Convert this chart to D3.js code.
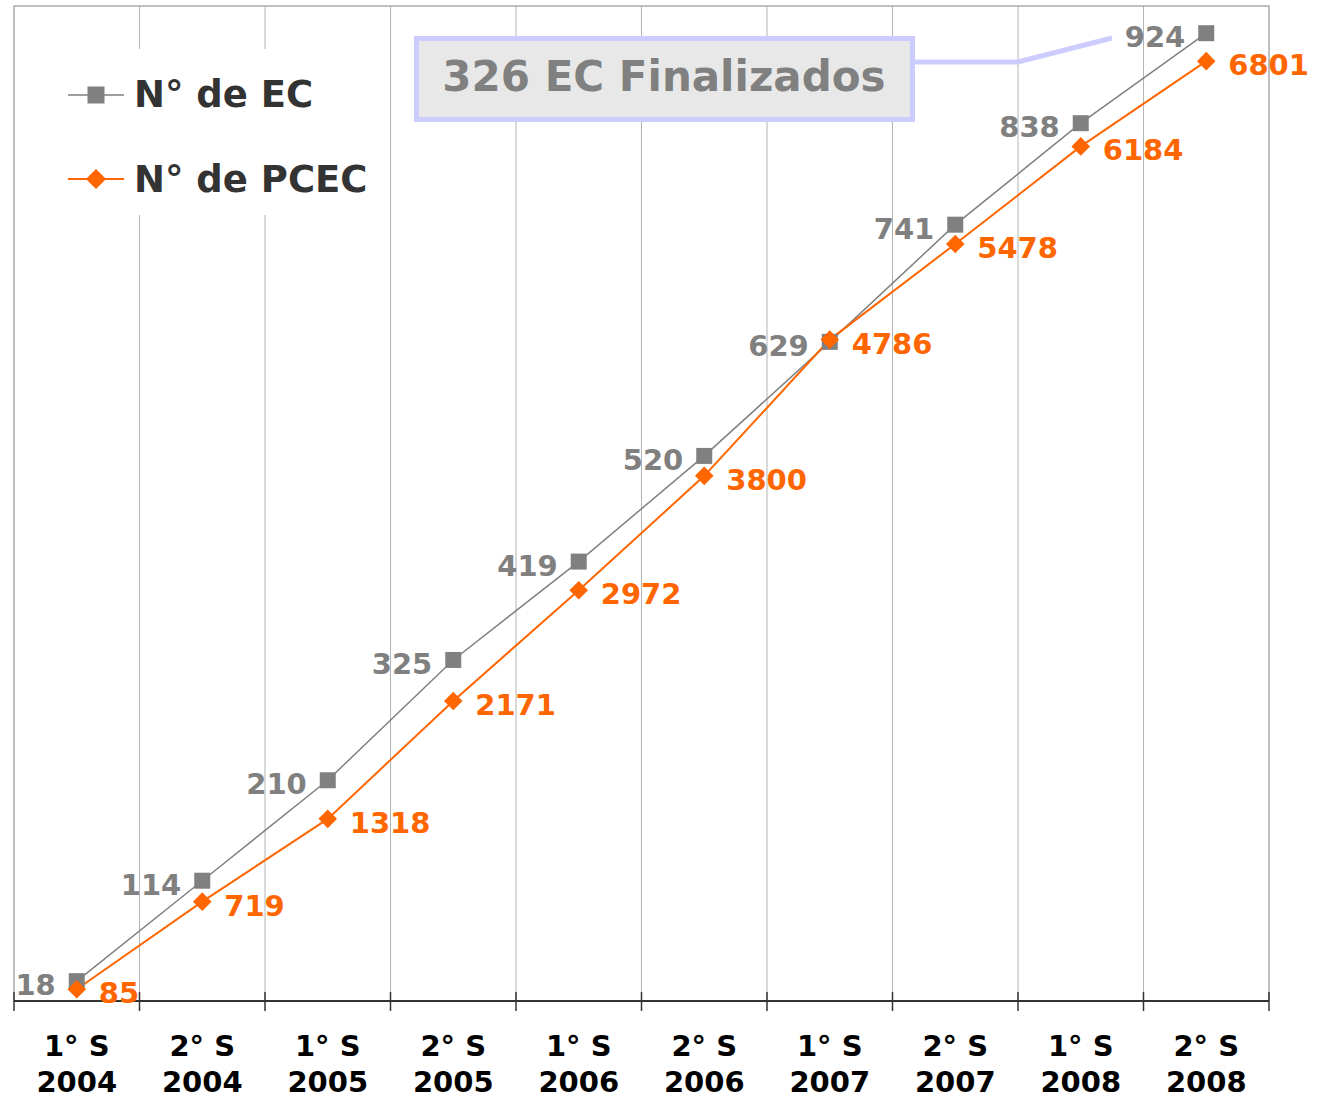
<!DOCTYPE html>
<html>
<head>
<meta charset="utf-8">
<script src="https://cdn.jsdelivr.net/npm/d3@7"></script>
<style>
  body { margin: 0; background: #fff; }
  text { font-family: "DejaVu Sans", Verdana, sans-serif; font-weight: bold; }
</style>
</head>
<body>
<div id="chart"></div>
<script>
// data
var semesters = ["1° S", "2° S", "1° S", "2° S", "1° S", "2° S", "1° S", "2° S", "1° S", "2° S"];
var years = ["2004", "2004", "2005", "2005", "2006", "2006", "2007", "2007", "2008", "2008"];
var ecValues = [18, 114, 210, 325, 419, 520, 629, 741, 838, 924];
var pcecValues = [85, 719, 1318, 2171, 2972, 3800, 4786, 5478, 6184, 6801];
var seriesNames = ["N° de EC", "N° de PCEC"];
var calloutText = "326 EC Finalizados";

var width = 1326, height = 1101;
var plot = {left: 14, right: 1269, top: 6, bottom: 1001};
var gray = "#808080", orange = "#ff6600";

var svg = d3.select("#chart").append("svg")
  .attr("width", width)
  .attr("height", height);

var cats = d3.range(ecValues.length);

var x = d3.scaleBand()
  .domain(cats)
  .range([plot.left, plot.right]);

var yEC = d3.scaleLinear()
  .domain([0, 950])
  .range([1000, plot.top]);

var yPC = d3.scaleLinear()
  .domain([0, 7200])
  .range([plot.bottom, plot.top]);

function cx(i) { return x(i) + x.bandwidth() / 2; }

// vertical gridlines at band boundaries
var bounds = cats.map(function(i){ return x(i); }).concat([plot.right]);

svg.append("g").selectAll("line")
  .data(bounds.slice(1, -1))
  .enter().append("line")
    .attr("x1", function(d){ return d; })
    .attr("x2", function(d){ return d; })
    .attr("y1", plot.top)
    .attr("y2", plot.bottom)
    .style("stroke", "#b4b4b4")
    .style("stroke-width", 1);

// plot border (top, left, right)
svg.append("path")
  .attr("d", "M" + plot.left + "," + plot.bottom + "V" + plot.top + "H" + plot.right + "V" + plot.bottom)
  .style("fill", "none")
  .style("stroke", "#aaaaaa")
  .style("stroke-width", 1.5);

// x axis
var axis = svg.append("g");
axis.append("line")
  .attr("x1", plot.left).attr("x2", plot.right)
  .attr("y1", plot.bottom).attr("y2", plot.bottom)
  .style("stroke", "#333").style("stroke-width", 2);
axis.selectAll("line.tick")
  .data(bounds)
  .enter().append("line")
    .attr("class", "tick")
    .attr("x1", function(d){ return d; })
    .attr("x2", function(d){ return d; })
    .attr("y1", plot.bottom - 9)
    .attr("y2", plot.bottom + 10)
    .style("stroke", "#333").style("stroke-width", 1.5);

var catLabels = axis.selectAll("text")
  .data(cats)
  .enter().append("text")
    .attr("x", cx)
    .attr("text-anchor", "middle")
    .style("font-size", "29px")
    .style("fill", "#000");
catLabels.append("tspan")
  .attr("x", cx).attr("y", 1056)
  .text(function(i){ return semesters[i]; });
catLabels.append("tspan")
  .attr("x", cx).attr("y", 1092)
  .text(function(i){ return years[i]; });

// legend (white box hides gridlines)
var legend = svg.append("g");
legend.append("rect")
  .attr("x", 20).attr("y", 49).attr("width", 366).attr("height", 166)
  .style("fill", "#fff");

legend.append("line")
  .attr("x1", 68).attr("x2", 124).attr("y1", 95).attr("y2", 95)
  .style("stroke", gray).style("stroke-width", 1.5);
legend.append("rect")
  .attr("x", 96 - 8.5).attr("y", 95 - 8.5).attr("width", 17).attr("height", 17)
  .style("fill", gray);
legend.append("text")
  .attr("x", 134).attr("y", 107)
  .style("font-size", "37px").style("fill", "#333")
  .text(seriesNames[0]);

legend.append("line")
  .attr("x1", 68).attr("x2", 124).attr("y1", 179).attr("y2", 179)
  .style("stroke", orange).style("stroke-width", 2);
legend.append("path")
  .attr("d", d3.symbol().type(d3.symbolDiamond2).size(260)())
  .attr("transform", "translate(96,179)")
  .style("fill", orange);
legend.append("text")
  .attr("x", 134).attr("y", 192)
  .style("font-size", "37px").style("fill", "#333")
  .text(seriesNames[1]);

// callout box
svg.append("path")
  .attr("d", "M915,62H1018L1112,38")
  .style("fill", "none")
  .style("stroke", "#ccccff")
  .style("stroke-width", 5);
svg.append("rect")
  .attr("x", 416.5).attr("y", 38.5).attr("width", 496).attr("height", 81)
  .style("fill", "#e8e8e8")
  .style("stroke", "#ccccff")
  .style("stroke-width", 5);
svg.append("text")
  .attr("x", 664).attr("y", 91)
  .attr("text-anchor", "middle")
  .style("font-size", "42px")
  .style("fill", gray)
  .text(calloutText);

// lines
var ecLine = d3.line()
  .x(function(d, i){ return cx(i); })
  .y(function(d){ return yEC(d); });
var pcLine = d3.line()
  .x(function(d, i){ return cx(i); })
  .y(function(d){ return yPC(d); });

svg.append("path")
  .datum(ecValues)
  .attr("d", ecLine)
  .style("fill", "none").style("stroke", gray).style("stroke-width", 1.5);

svg.append("path")
  .datum(pcecValues)
  .attr("d", pcLine)
  .style("fill", "none").style("stroke", orange).style("stroke-width", 2);

// markers
svg.append("g").selectAll("rect")
  .data(ecValues)
  .enter().append("rect")
    .attr("x", function(d, i){ return cx(i) - 8; })
    .attr("y", function(d){ return yEC(d) - 8; })
    .attr("width", 16).attr("height", 16)
    .style("fill", gray);

svg.append("g").selectAll("path")
  .data(pcecValues)
  .enter().append("path")
    .attr("d", d3.symbol().type(d3.symbolDiamond2).size(220)())
    .attr("transform", function(d, i){ return "translate(" + cx(i) + "," + yPC(d) + ")"; })
    .style("fill", orange);

// data labels
svg.append("g").selectAll("text")
  .data(ecValues)
  .enter().append("text")
    .attr("x", function(d, i){ return cx(i) - 21; })
    .attr("y", function(d){ return yEC(d) + 14; })
    .attr("text-anchor", "end")
    .style("font-size", "29px")
    .style("fill", gray)
    .text(function(d){ return d; });

svg.append("g").selectAll("text")
  .data(pcecValues)
  .enter().append("text")
    .attr("x", function(d, i){ return cx(i) + 22; })
    .attr("y", function(d){ return yPC(d) + 14; })
    .style("font-size", "29px")
    .style("fill", orange)
    .text(function(d){ return d; });
</script>
</body>
</html>
